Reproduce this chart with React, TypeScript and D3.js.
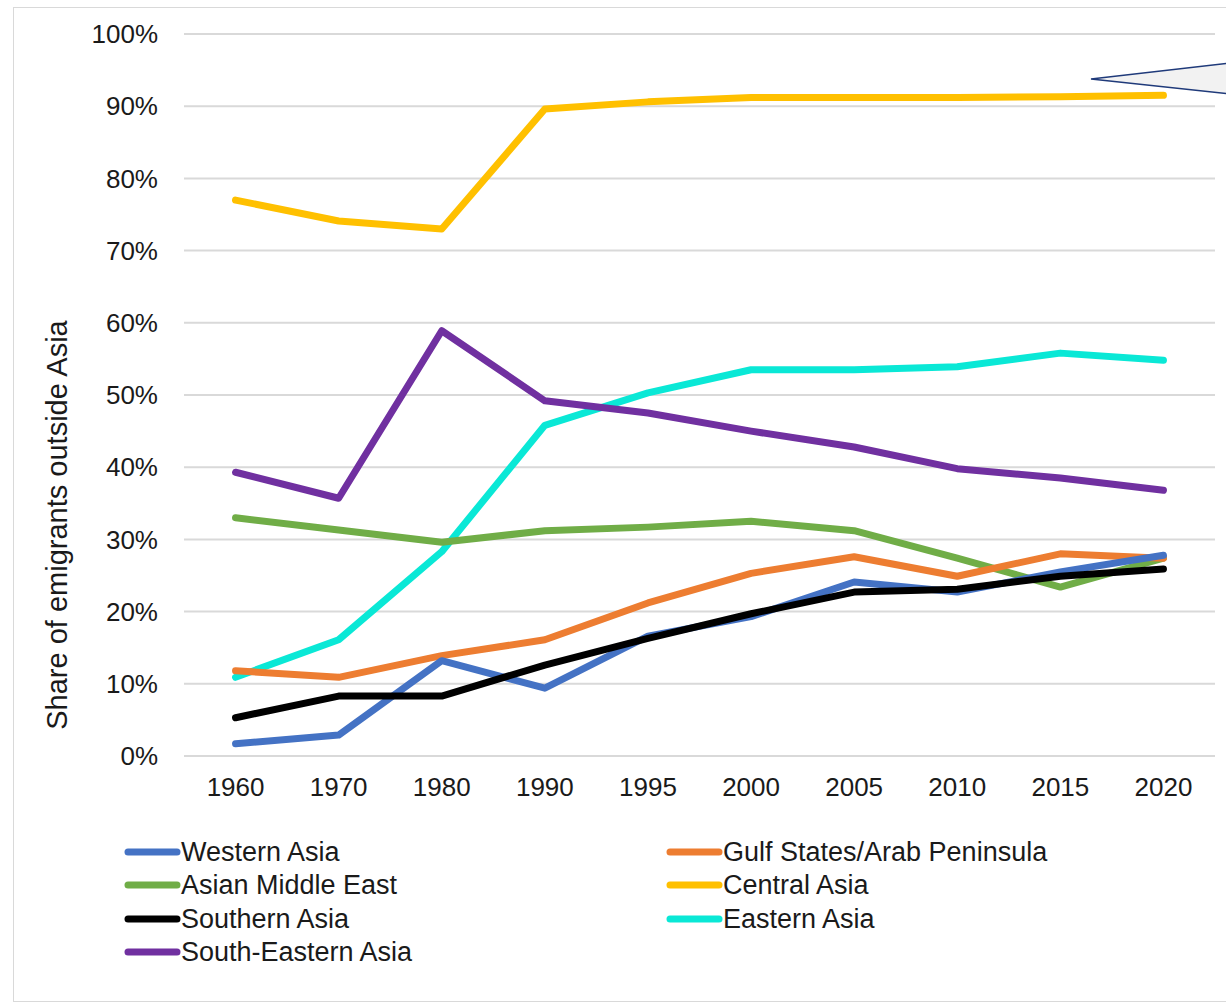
import React, { useRef, useEffect } from 'react';
import * as d3 from 'd3';

const years = ['1960', '1970', '1980', '1990', '1995', '2000', '2005', '2010', '2015', '2020'];
const yTicks = [0, 10, 20, 30, 40, 50, 60, 70, 80, 90, 100];

const westernAsia = [1.7, 2.9, 13.2, 9.4, 16.6, 19.3, 24.1, 22.7, 25.5, 27.8];
const gulfStates = [11.8, 10.9, 13.9, 16.1, 21.2, 25.3, 27.6, 24.9, 28.0, 27.4];
const asianMiddleEast = [33.0, 31.3, 29.6, 31.2, 31.7, 32.5, 31.2, 27.4, 23.4, 27.4];
const centralAsia = [77.0, 74.1, 73.0, 89.6, 90.6, 91.2, 91.2, 91.2, 91.3, 91.5];
const southernAsia = [5.3, 8.3, 8.3, 12.6, 16.3, 19.7, 22.7, 23.1, 24.9, 25.9];
const easternAsia = [10.9, 16.1, 28.3, 45.8, 50.3, 53.5, 53.5, 53.9, 55.8, 54.8];
const southEasternAsia = [39.3, 35.7, 58.9, 49.2, 47.5, 45.0, 42.8, 39.8, 38.5, 36.8];

const series = [
  { name: 'Western Asia', color: '#4472C4', values: westernAsia },
  { name: 'Gulf States/Arab Peninsula', color: '#ED7D31', values: gulfStates },
  { name: 'Asian Middle East', color: '#70AD47', values: asianMiddleEast },
  { name: 'Central Asia', color: '#FFC000', values: centralAsia },
  { name: 'Southern Asia', color: '#000000', values: southernAsia },
  { name: 'Eastern Asia', color: '#0AE8D6', values: easternAsia },
  { name: 'South-Eastern Asia', color: '#7030A0', values: southEasternAsia },
];

// draw order (front-most last)
const drawOrder = ['Central Asia', 'Eastern Asia', 'South-Eastern Asia', 'Asian Middle East', 'Gulf States/Arab Peninsula', 'Western Asia', 'Southern Asia'];

const App = () => {
  const ref = useRef<SVGSVGElement>(null);

  useEffect(() => {
    const svg = d3.select(ref.current);
    svg.selectAll('*').remove();
    const font = 'Liberation Sans, Arial, sans-serif';

    // outer frame
    svg.append('rect')
      .attr('x', 13.5).attr('y', 7.5)
      .attr('width', 1240).attr('height', 994)
      .attr('fill', 'white').attr('stroke', '#d9d9d9').attr('stroke-width', 1);

    const x = d3.scaleBand().domain(years).range([184, 1215]);
    const y = d3.scaleLinear().domain([0, 100]).range([756, 34]);

    const g = svg.append('g');

    // gridlines
    g.selectAll('.grid')
      .data(yTicks)
      .enter().append('line')
      .attr('x1', 184).attr('x2', 1215)
      .attr('y1', d => y(d)).attr('y2', d => y(d))
      .attr('stroke', '#d9d9d9').attr('stroke-width', 2);

    // y tick labels
    g.selectAll('.ytick')
      .data(yTicks)
      .enter().append('text')
      .attr('x', 158).attr('y', d => y(d))
      .attr('dy', '0.35em')
      .attr('text-anchor', 'end')
      .attr('font-family', font).attr('font-size', 26)
      .attr('fill', '#1a1a1a')
      .text(d => `${d}%`);

    // x tick labels
    g.selectAll('.xtick')
      .data(years)
      .enter().append('text')
      .attr('x', d => (x(d) as number) + x.bandwidth() / 2)
      .attr('y', 787).attr('dy', '0.35em')
      .attr('text-anchor', 'middle')
      .attr('font-family', font).attr('font-size', 26)
      .attr('fill', '#1a1a1a')
      .text(d => d);

    // y axis title
    g.append('text')
      .attr('transform', 'translate(57,525) rotate(-90)')
      .attr('dy', '0.35em')
      .attr('text-anchor', 'middle')
      .attr('font-family', font).attr('font-size', 29)
      .attr('fill', '#1a1a1a')
      .text('Share of emigrants outside Asia');

    const line = d3.line<number>()
      .x((_, i) => (x(years[i]) as number) + x.bandwidth() / 2)
      .y(d => y(d));

    drawOrder.forEach(n => {
      const s = series.find(k => k.name === n)!;
      g.append('path')
        .datum(s.values)
        .attr('fill', 'none')
        .attr('stroke', s.color)
        .attr('stroke-width', 7)
        .attr('stroke-linejoin', 'round')
        .attr('stroke-linecap', 'round')
        .attr('d', line);
    });

    // callout pointer (cut off at right edge)
    svg.append('path')
      .attr('d', 'M1240,62 L1091,79 L1240,95')
      .attr('fill', '#f2f2f2')
      .attr('stroke', '#1F3A7A').attr('stroke-width', 1.5);

    // legend
    const leg = svg.append('g');
    const cols = [128, 670];
    const rows = [852, 885, 919, 952];
    series.forEach((s, i) => {
      const cx = cols[i % 2];
      const cy = rows[Math.floor(i / 2)];
      leg.append('line')
        .attr('x1', cx).attr('x2', cx + 49)
        .attr('y1', cy).attr('y2', cy)
        .attr('stroke', s.color).attr('stroke-width', 7)
        .attr('stroke-linecap', 'round');
      leg.append('text')
        .attr('x', cx + 53).attr('y', cy).attr('dy', '0.35em')
        .attr('font-family', font).attr('font-size', 27)
        .attr('fill', '#1a1a1a')
        .text(s.name);
    });
  }, []);

  return (
    <svg ref={ref} width={1226} height={1003}
      style={{ position: 'absolute', left: 0, top: 0, background: 'white' }} />
  );
};

export default App;
